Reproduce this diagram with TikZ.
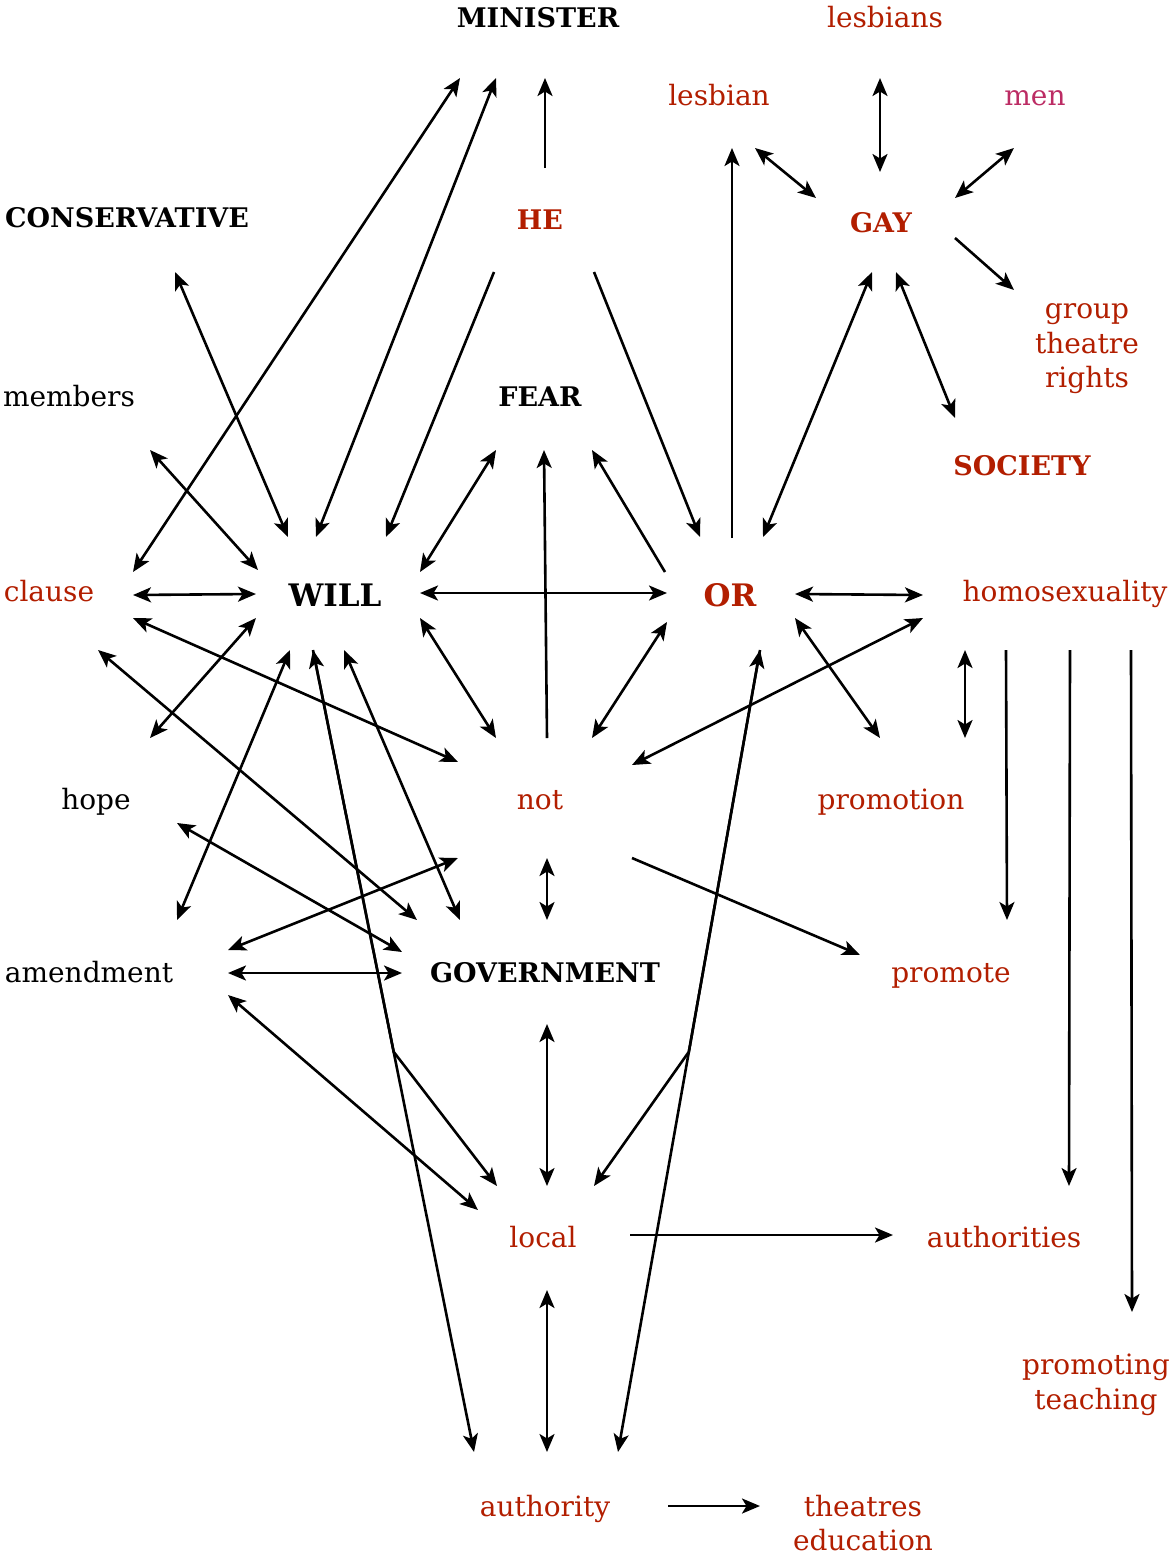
\documentclass[tikz,border=0pt]{standalone}
\usepackage{fontspec}
\setmainfont{DejaVu Serif}
\usetikzlibrary{arrows.meta,calc}
\definecolor{wred}{RGB}{178,30,0}
\definecolor{wpink}{RGB}{188,44,100}
\tikzset{
  mlab/.style={inner sep=0pt,font=\fontsize{28}{34.5}\selectfont,align=center},
  lab/.style={mlab,text height=24pt,text depth=4pt},
  blab/.style={inner sep=0pt,font=\fontsize{27}{32}\selectfont\bfseries,align=center,text height=24pt,text depth=4pt},
  bigb/.style={inner sep=0pt,font=\fontsize{31}{36}\selectfont\bfseries,align=center,text height=26pt,text depth=4pt},
  bi/.style={{Stealth[length=18pt,width=15pt,inset=4.5pt]}-{Stealth[length=18pt,width=15pt,inset=4.5pt]},line width=2.6pt},
  uni/.style={-{Stealth[length=18pt,width=15pt,inset=4.5pt]},line width=2.6pt}
}
\begin{document}
\begin{tikzpicture}[x=1pt,y=-1pt]
\useasboundingbox (0,0) rectangle (1171,1556);
% nodes
\node[blab] (MIN) at (538,17) {MINISTER};
\node[lab,wred] (LESS) at (885,17) {lesbians};
\node[lab,wred] (LES) at (719,95) {lesbian};
\node[lab,wpink] (MEN) at (1035,95) {men};
\node[blab] (CON) at (127,217) {CONSERVATIVE};
\node[blab,wred] (HE) at (540,219) {HE};
\node[blab,wred] (GAY) at (881,222) {GAY};
\node[mlab,wred] (GRP) at (1087,349) {group\\theatre\\rights};
\node[lab] (MEM) at (69,396) {members};
\node[blab] (FEAR) at (540,396) {FEAR};
\node[blab,wred] (SOC) at (1022,465) {SOCIETY};
\node[lab,wred] (CLA) at (49,591) {clause};
\node[bigb] (WILL) at (335,595) {WILL};
\node[bigb,wred] (OR) at (730,595) {OR};
\node[lab,wred] (HOMO) at (1065,591) {homosexuality};
\node[lab] (HOPE) at (96,799) {hope};
\node[lab,wred] (NOT) at (540,799) {not};
\node[lab,wred] (PROMN) at (891,799) {promotion};
\node[lab] (AMD) at (89,972) {amendment};
\node[blab] (GOV) at (545,972) {GOVERNMENT};
\node[lab,wred] (PROMT) at (951,972) {promote};
\node[lab,wred] (LOC) at (543,1237) {local};
\node[lab,wred] (AUTHS) at (1004,1237) {authorities};
\node[mlab,wred] (PROMG) at (1096,1385) {promoting\\teaching};
\node[lab,wred] (AUTH) at (545,1506) {authority};
\node[mlab,wred] (THEA) at (863,1523) {theatres\\education};
% edges
\draw[uni] ($(HE)+(5,-51)$) -- ($(MIN)+(7,61)$);
\draw[bi] ($(CLA)+(84,-19)$) -- ($(MIN)+(-78,61)$);
\draw[bi] ($(WILL)+(-19,-58)$) -- ($(MIN)+(-42,61)$);
\draw[bi] ($(CON)+(48,55)$) -- ($(WILL)+(-47,-58)$);
\draw[bi] ($(MEM)+(81,54)$) -- ($(WILL)+(-77,-25)$);
\draw[uni] ($(HE)+(-46,53)$) -- ($(WILL)+(51,-58)$);
\draw[uni] ($(HE)+(54,53)$) -- ($(OR)+(-30,-58)$);
\draw[uni] ($(OR)+(2,-57)$) -- ($(LES)+(13,53)$);
\draw[bi] ($(LES)+(36,53)$) -- ($(GAY)+(-65,-24)$);
\draw[bi] ($(LESS)+(-5,61)$) -- ($(GAY)+(-1,-50)$);
\draw[bi] ($(MEN)+(-21,53)$) -- ($(GAY)+(74,-24)$);
\draw[uni] ($(GAY)+(74,16)$) -- ($(GRP)+(-73,-59)$);
\draw[bi] ($(OR)+(33,-58)$) -- ($(GAY)+(-9,50)$);
\draw[bi] ($(GAY)+(15,50)$) -- ($(SOC)+(-67,-47)$);
\draw[bi] ($(WILL)+(85,-23)$) -- ($(FEAR)+(-44,54)$);
\draw[uni] ($(NOT)+(7,-61)$) -- ($(FEAR)+(4,54)$);
\draw[uni] ($(OR)+(-65,-23)$) -- ($(FEAR)+(52,54)$);
\draw[bi] ($(WILL)+(85,-2)$) -- ($(OR)+(-63,-2)$);
\draw[bi] ($(CLA)+(84,4)$) -- ($(WILL)+(-79,-1)$);
\draw[bi] ($(OR)+(65,-1)$) -- ($(HOMO)+(-142,4)$);
\draw[bi] ($(CLA)+(84,27)$) -- ($(NOT)+(-82,-37)$);
\draw[bi] ($(WILL)+(-79,23)$) -- ($(HOPE)+(54,-61)$);
\draw[bi] ($(WILL)+(85,23)$) -- ($(NOT)+(-44,-61)$);
\draw[bi] ($(OR)+(-63,27)$) -- ($(NOT)+(52,-61)$);
\draw[bi] ($(HOMO)+(-142,27)$) -- ($(NOT)+(92,-34)$);
\draw[bi] ($(OR)+(65,23)$) -- ($(PROMN)+(-11,-61)$);
\draw[bi] ($(HOMO)+(-100,59)$) -- ($(PROMN)+(74,-61)$);
\draw[uni] ($(HOMO)+(-59,59)$) -- ($(PROMT)+(56,-52)$);
\draw[uni] ($(HOMO)+(5,59)$) -- ($(AUTHS)+(65,-51)$);
\draw[uni] ($(HOMO)+(66,59)$) -- ($(PROMG)+(36,-73)$);
\draw[bi] ($(CLA)+(49,59)$) -- ($(GOV)+(-128,-52)$);
\draw[bi] ($(WILL)+(-45,55)$) -- ($(AMD)+(88,-52)$);
\draw[bi] ($(WILL)+(-22,55)$) coordinate (w1) -- ($(AUTH)+(-71,-54)$) coordinate (a1);
\draw[uni] (w1) -- ($(w1)!0.501!(a1)$) -- ($(LOC)+(-46,-51)$);
\draw[bi] ($(WILL)+(9,55)$) -- ($(GOV)+(-85,-52)$);
\draw[bi] ($(HOPE)+(81,24)$) -- ($(GOV)+(-143,-20)$);
\draw[bi] ($(NOT)+(-82,59)$) -- ($(AMD)+(139,-22)$);
\draw[bi] ($(NOT)+(7,59)$) -- ($(GOV)+(2,-52)$);
\draw[uni] ($(NOT)+(92,59)$) -- ($(PROMT)+(-91,-17)$);
\draw[bi] ($(AMD)+(139,1)$) -- ($(GOV)+(-143,1)$);
\draw[bi] ($(AMD)+(139,23)$) -- ($(LOC)+(-65,-27)$);
\draw[bi] ($(GOV)+(2,52)$) -- ($(LOC)+(4,-51)$);
\draw[bi] ($(OR)+(30,55)$) coordinate (o1) -- ($(AUTH)+(73,-54)$) coordinate (a2);
\draw[uni] (o1) -- ($(o1)!0.501!(a2)$) -- ($(LOC)+(51,-51)$);
\draw[uni] ($(LOC)+(87,-2)$) -- ($(AUTHS)+(-111,-2)$);
\draw[bi] ($(LOC)+(4,53)$) -- ($(AUTH)+(2,-54)$);
\draw[uni] ($(AUTH)+(123,0)$) -- ($(THEA)+(-103,-17)$);
\end{tikzpicture}
\end{document}
